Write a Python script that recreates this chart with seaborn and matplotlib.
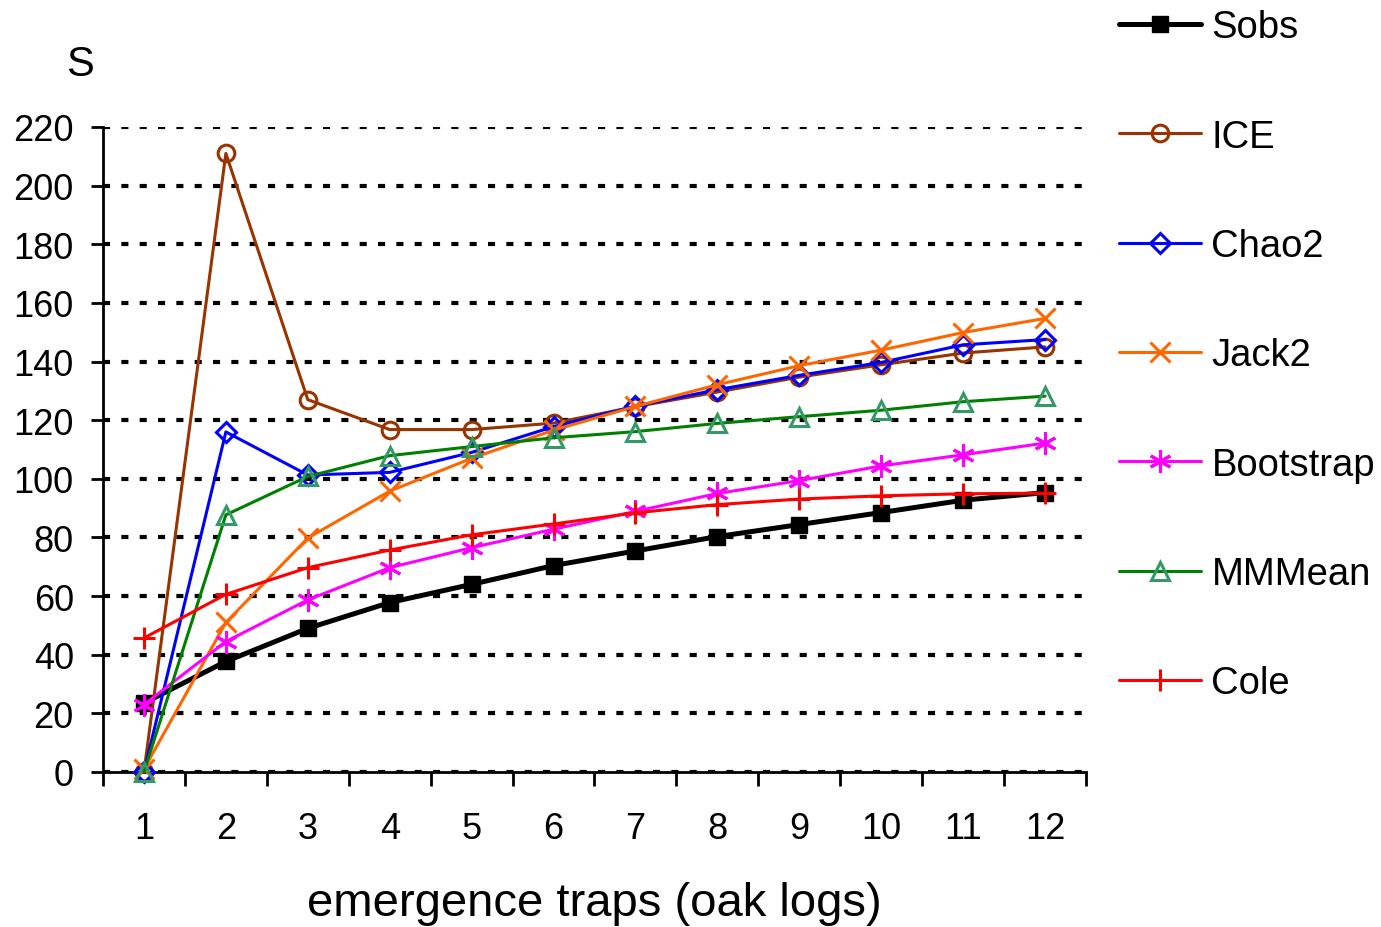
import numpy as np
import pandas as pd
import seaborn as sns
import matplotlib.pyplot as plt

# species accumulation estimates per number of traps
traps = list(range(1, 13))
sobs = [23.5, 37.7, 49, 57.8, 64, 70.4, 75.4, 80.3, 84.4, 88.5, 92.7, 95.3]
ice = [0, 211, 127, 116.8, 116.8, 119, 124.6, 129.6, 134.7, 138.9, 142.9, 145]
chao2 = [0, 116, 101.3, 102.2, 109, 117.8, 124.8, 130.4, 135.3, 139.7, 145.7, 147.5]
jack2 = [1, 51, 79.8, 95.8, 107, 116.6, 124.7, 132.1, 138.6, 143.9, 149.9, 154.7]
bootstrap = [23, 44.5, 58.7, 69.7, 76.5, 82.8, 88.9, 95, 99.4, 104.4, 108.2, 112.2]
mmmean = [0, 87.7, 100.8, 107.9, 111, 114, 116.1, 118.9, 121.2, 123.4, 126.3, 128.2]
cole = [45.7, 60.6, 69.7, 75.7, 80.9, 84.6, 88.4, 91.2, 93.1, 94.2, 94.9, 95.1]
yticks = list(range(0, 221, 20))

sns.set_theme(style="white")
plt.rcParams['font.family'] = ['Liberation Sans', 'DejaVu Sans']
plt.rcParams['text.color'] = 'black'
plt.rcParams['xtick.color'] = 'black'
plt.rcParams['ytick.color'] = 'black'
plt.rcParams['axes.labelcolor'] = 'black'

fig = plt.figure(figsize=(13.81, 9.28), dpi=100)
ax = fig.add_axes([103/1381, 1-773/928, (1086-103)/1381, (773-128)/928])

lw = 2.2
mew = 2.2
series = [
    ("Sobs", sobs, dict(color="black", marker="s", markersize=12, markerfacecolor="black",
                        markeredgecolor="black", markeredgewidth=1, linewidth=3.6)),
    ("ICE", ice, dict(color="#993300", marker="o", markersize=12, markerfacecolor="none",
                      markeredgecolor="#993300", markeredgewidth=mew, linewidth=lw)),
    ("Chao2", chao2, dict(color="#0000FF", marker="D", markersize=10.5, markerfacecolor="none",
                          markeredgecolor="#0000FF", markeredgewidth=mew, linewidth=lw)),
    ("Jack2", jack2, dict(color="#FF6600", marker="x", markersize=14, markerfacecolor="none",
                          markeredgecolor="#FF6600", markeredgewidth=mew, linewidth=lw)),
    ("Bootstrap", bootstrap, dict(color="#FF00FF", marker=(6, 2, 0), markersize=16, markerfacecolor="none",
                                  markeredgecolor="#FF00FF", markeredgewidth=mew, linewidth=lw)),
    ("MMMean", mmmean, dict(color="#008000", marker="^", markersize=13, markerfacecolor="none",
                            markeredgecolor="#339966", markeredgewidth=mew, linewidth=lw)),
    ("Cole", cole, dict(color="#FF0000", marker="+", markersize=16, markerfacecolor="none",
                        markeredgecolor="#FF0000", markeredgewidth=mew, linewidth=lw)),
]

for i, (name, vals, kw) in enumerate(series):
    sns.lineplot(x=traps, y=vals, ax=ax, label=name, clip_on=False, zorder=3 + i, **kw)

handles, labels = ax.get_legend_handles_labels()
if ax.get_legend() is not None:
    ax.get_legend().remove()

ax.set_xlim(0.5, 12.5)
ax.set_ylim(0, 220)
ax.set_yticks(yticks)
ax.set_xticks(traps)
ax.set_xticks(np.arange(0.5, 13, 1), minor=True)

for s in ["top", "right"]:
    ax.spines[s].set_visible(False)
for s in ["left", "bottom"]:
    ax.spines[s].set_color("black")
    ax.spines[s].set_linewidth(2)

ax.tick_params(axis="y", which="major", direction="out", length=9, width=2, color="black",
               labelsize=26, labelcolor="black", pad=12, left=True)
ax.tick_params(axis="x", which="major", length=0, labelsize=26, labelcolor="black", pad=28)
ax.tick_params(axis="x", which="minor", direction="out", length=10, width=2, color="black", bottom=True)

ax.yaxis.grid(True, color="black", linewidth=3.0, linestyle=(0, (1.7, 2.7)), zorder=1)
ax.xaxis.grid(False)
ax.set_axisbelow(True)

ax.set_xlabel("emergence traps (oak logs)", fontsize=34, va="center", color="black")
ax.xaxis.set_label_coords(0.5, -(904-773)/645)
ax.set_ylabel("")
fig.text(80/1381, 1-65/928, "S", fontsize=30, ha="center", va="center")

fig.legend(handles, labels, loc="upper left", bbox_to_anchor=(1085/1381, 1.026), frameon=False,
           fontsize=27.5, handlelength=2.15, handletextpad=0.26, labelspacing=1.92)

fig.savefig("out.png", dpi=100)
